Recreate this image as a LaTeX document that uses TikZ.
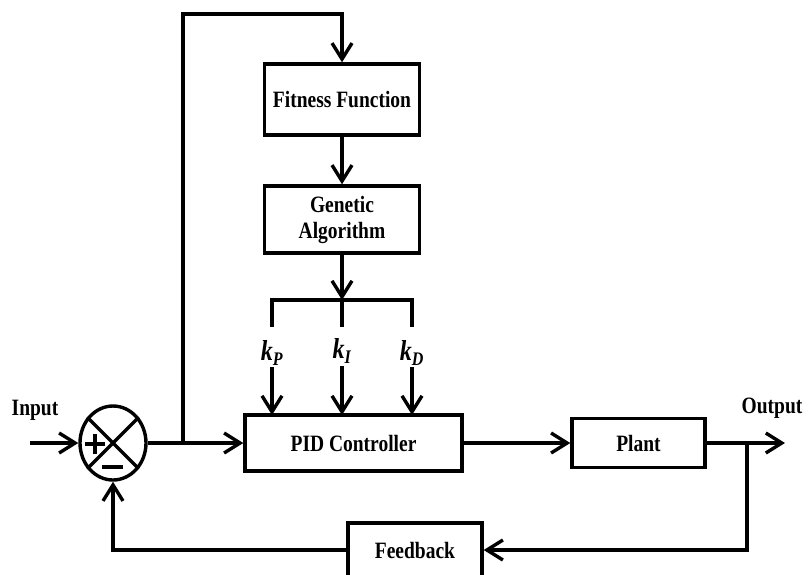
\documentclass[tikz,border=0pt]{standalone}
\usepackage{fontspec}
\setmainfont{Liberation Serif}
\usetikzlibrary{arrows.meta,shapes.geometric,calc}
\newcommand{\tallt}[1]{\scalebox{1}[1.2]{#1}}
\begin{document}
\begin{tikzpicture}[x=1pt,y=-1pt,
  line width=3.4pt,
  arr/.style={-{Straight Barb[length=16pt,width=20pt,line width=3.4pt]}},
  blk/.style={draw,rectangle,inner sep=0pt,font=\fontsize{19.5}{26}\selectfont\bfseries,align=center},
  lbl/.style={inner sep=0pt,font=\fontsize{19.5}{22}\selectfont\bfseries},
  klbl/.style={inner sep=0pt,font=\fontsize{24}{26}\selectfont\bfseries\itshape}]
\useasboundingbox (0,0) rectangle (810,574);
\clip (0,0) rectangle (810,574);
\fill[white] (0,0) rectangle (810,574);

% blocks
\node[blk,minimum width=155pt,minimum height=71pt] (ff) at (342,99.5) {\tallt{Fitness Function}};
\node[blk,minimum width=155pt,minimum height=67pt] (ga) at (342,219.5) {\tallt{Genetic}\\\tallt{Algorithm}};
\node[blk,minimum width=217pt,minimum height=56pt] (pid) at (353.5,443) {\tallt{PID Controller}};
\node[blk,minimum width=133pt,minimum height=49pt] (plant) at (638.5,443) {\tallt{Plant}};
\node[blk,minimum width=134pt,minimum height=54pt] (fb) at (415,550) {\tallt{Feedback}};
\node[draw,ellipse,inner sep=0pt,minimum width=66pt,minimum height=74pt] (sum) at (113,443) {};

% summing junction marks
\draw (sum.45) -- (sum.225);
\draw (sum.135) -- (sum.315);
\draw (85,444) -- (105,444);
\draw (95,434) -- (95,454);
\draw (102,467) -- (123,467);

% labels
\node[lbl] (inlbl) at (35,410) {\tallt{Input}};
\node[lbl] (outlbl) at (772,408) {\tallt{Output}};
\node[klbl] (kP) at (272,353) {\tallt{k\textsubscript{\fontsize{16}{17}\selectfont P}}};
\node[klbl] (kI) at (342,351) {\tallt{k\textsubscript{\fontsize{16}{17}\selectfont I}}};
\node[klbl] (kD) at (412,353) {\tallt{k\textsubscript{\fontsize{16}{17}\selectfont D}}};

% coordinates
\coordinate (in) at (30,443);
\coordinate (br) at (183,443);
\coordinate (top) at (183,14);
\coordinate (bar) at (342,300);
\coordinate (barL) at (272,300);
\coordinate (barR) at (412,300);
\coordinate (tap) at (747,443);
\coordinate (out) at (785,443);

% connectors
\draw[arr] (in) -- (sum.west);
\draw[arr] (sum.east) -- (pid.west);
\draw[arr] (br) -- (top) -| (ff.north);
\draw[arr] (ff.south) -- (ga.north);
\draw[arr] (ga.south) -- (bar);
\draw (272,327) -- (barL) -- (barR) -- (412,327);
\draw (bar) -- (342,327);
\draw[arr] (272,367) -- (272,415);
\draw[arr] (342,366) -- (342,415);
\draw[arr] (412,367) -- (412,415);
\draw[arr] (pid.east) -- (plant.west);
\draw[arr] (plant.east) -- (out);
\draw[arr] (tap) |- (fb.east);
\draw[arr] (fb.west) -| (sum.south);
\end{tikzpicture}
\end{document}
